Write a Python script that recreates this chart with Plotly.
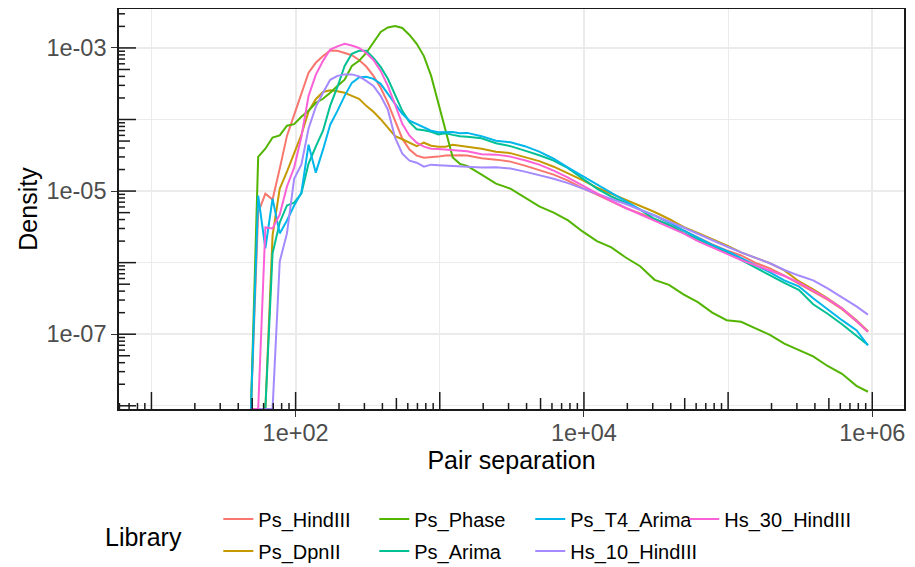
import math
import plotly.graph_objects as go

# ---------------- data ----------------
pair_separation = [49.0, 55.0, 61.7, 69.2, 77.6, 87.1, 97.7, 109.6, 123.0, 138.0,
                   154.9, 173.8, 195.0, 218.8, 245.5, 275.4, 309.0, 346.7, 389.0, 436.5,
                   489.8, 549.5, 616.6, 691.8, 776.2, 871.0, 977.2, 1096, 1230, 1380,
                   1549, 1950, 2455, 3090, 3890, 4898, 6166, 7762, 9772, 12303,
                   15488, 19498, 24547, 30903, 38905, 48978, 61660, 77625, 97724, 123027,
                   154882, 194984, 245471, 309030, 389045, 489779, 616595, 776247, 933254]

ps_hindiii = [0, 5.0e-6, 9.2e-6, 7.6e-6, 2.06e-5, 5.9e-5, 1.16e-4, 2.28e-4, 4.5e-4, 6.2e-4,
              7.7e-4, 9.2e-4, 9.1e-4, 8.5e-4, 7.9e-4, 6.8e-4, 5.5e-4, 4.07e-4, 2.77e-4, 1.71e-4,
              9.5e-5, 5.4e-5, 3.8e-5, 3.13e-5, 2.93e-5, 2.96e-5, 3.03e-5, 3.13e-5, 3.17e-5, 3.17e-5,
              3.13e-5, 2.88e-5, 2.75e-5, 2.58e-5, 2.27e-5, 1.96e-5, 1.70e-5, 1.40e-5, 1.10e-5, 8.9e-6,
              7.1e-6, 5.8e-6, 4.86e-6, 4.07e-6, 3.36e-6, 2.82e-6, 2.25e-6, 1.80e-6, 1.48e-6, 1.26e-6,
              9.9e-7, 8.3e-7, 6.6e-7, 5.06e-7, 3.9e-7, 3.03e-7, 2.23e-7, 1.52e-7, 1.08e-7]

ps_dpnii = [0, 0, 0, 2.4e-6, 1.08e-5, 1.87e-5, 3.4e-5, 6.1e-5, 1.3e-4, 1.92e-4,
            2.42e-4, 2.56e-4, 2.48e-4, 2.36e-4, 2.14e-4, 1.95e-4, 1.55e-4, 1.28e-4, 1.01e-4, 7.7e-5,
            5.85e-5, 5.3e-5, 4.74e-5, 4.24e-5, 4.74e-5, 4.3e-5, 4.17e-5, 4.17e-5, 4.45e-5, 4.3e-5,
            4.17e-5, 3.91e-5, 3.55e-5, 3.39e-5, 2.98e-5, 2.62e-5, 2.19e-5, 1.78e-5, 1.42e-5, 1.12e-5,
            9.2e-6, 7.5e-6, 6.3e-6, 5.1e-6, 4.07e-6, 3.15e-6, 2.6e-6, 2.14e-6, 1.74e-6, 1.39e-6,
            1.16e-6, 9.8e-7, 7.8e-7, 5.5e-7, 4.24e-7, 3.18e-7, 2.3e-7, 1.57e-7, 1.1e-7]

ps_phase = [0, 3.0e-5, 3.9e-5, 5.6e-5, 6.0e-5, 8.2e-5, 8.6e-5, 1.09e-4, 1.32e-4, 1.71e-4,
            1.95e-4, 2.36e-4, 2.95e-4, 3.6e-4, 5.6e-4, 6.6e-4, 8.5e-4, 1.21e-3, 1.67e-3, 1.93e-3,
            2.02e-3, 1.9e-3, 1.52e-3, 1.14e-3, 7.7e-4, 4.07e-4, 1.7e-4, 7.2e-5, 2.95e-5, 2.4e-5,
            2.25e-5, 1.7e-5, 1.27e-5, 1.08e-5, 8.1e-6, 6.1e-6, 5.0e-6, 3.9e-6, 2.73e-6, 2.0e-6,
            1.63e-6, 1.18e-6, 8.9e-7, 5.75e-7, 4.9e-7, 3.6e-7, 2.8e-7, 2.0e-7, 1.57e-7, 1.49e-7,
            1.21e-7, 9.8e-8, 7.4e-8, 6.0e-8, 4.9e-8, 3.6e-8, 2.8e-8, 1.9e-8, 1.57e-8]

ps_arima = [0, 0, 0, 1.35e-6, 3.64e-6, 6.3e-6, 6.9e-6, 9.2e-6, 2.42e-5, 4.17e-5,
            6.97e-5, 1.56e-4, 2.85e-4, 5.6e-4, 8.3e-4, 9.1e-4, 9.1e-4, 7.26e-4, 5.43e-4, 3.7e-4,
            2.21e-4, 1.32e-4, 9.2e-5, 7.3e-5, 7.1e-5, 6.74e-5, 6.2e-5, 6.4e-5, 6.1e-5, 5.85e-5,
            5.75e-5, 5.48e-5, 4.67e-5, 4.24e-5, 3.67e-5, 3.17e-5, 2.66e-5, 2.09e-5, 1.5e-5, 1.08e-5,
            8.4e-6, 6.8e-6, 5.5e-6, 4.07e-6, 3.36e-6, 2.6e-6, 2.11e-6, 1.74e-6, 1.41e-6, 1.09e-6,
            8.45e-7, 6.6e-7, 5.2e-7, 4.17e-7, 2.62e-7, 1.93e-7, 1.38e-7, 9.5e-8, 7.1e-8]

ps_t4_arima = [0, 8.65e-6, 1.58e-6, 7.85e-6, 2.56e-6, 3.88e-6, 6.28e-6, 9.5e-6, 4.45e-5, 1.81e-5,
               3.79e-5, 8.45e-5, 1.32e-4, 2.14e-4, 3.25e-4, 3.88e-4, 3.94e-4, 3.7e-4, 3.15e-4, 2.28e-4,
               1.66e-4, 1.2e-4, 9.6e-5, 8.6e-5, 7.8e-5, 6.97e-5, 6.64e-5, 6.7e-5, 6.7e-5, 6.43e-5,
               6.5e-5, 5.85e-5, 5.06e-5, 4.82e-5, 4.24e-5, 3.55e-5, 2.83e-5, 2.13e-5, 1.62e-5, 1.23e-5,
               9.5e-6, 7.15e-6, 5.5e-6, 4.56e-6, 3.64e-6, 2.82e-6, 2.21e-6, 1.77e-6, 1.46e-6, 1.16e-6,
               9.0e-7, 7.3e-7, 5.66e-7, 4.67e-7, 3.18e-7, 2.23e-7, 1.57e-7, 1.14e-7, 7.0e-8]

hs_10_hindiii = [0, 0, 0, 0, 1.04e-6, 2.56e-6, 1.49e-5, 2.34e-5, 7.5e-5, 1.5e-4,
                 2.36e-4, 3.58e-4, 4.07e-4, 4.27e-4, 4.27e-4, 4.0e-4, 3.47e-4, 2.95e-4, 2.14e-4, 1.37e-4,
                 5.57e-5, 3.33e-5, 2.66e-5, 2.49e-5, 2.19e-5, 2.34e-5, 2.3e-5, 2.27e-5, 2.27e-5, 2.23e-5,
                 2.19e-5, 2.13e-5, 2.16e-5, 2.06e-5, 1.87e-5, 1.67e-5, 1.49e-5, 1.29e-5, 1.08e-5, 9.1e-6,
                 7.74e-6, 6.6e-6, 5.5e-6, 4.56e-6, 3.76e-6, 3.1e-6, 2.52e-6, 2.04e-6, 1.68e-6, 1.39e-6,
                 1.18e-6, 9.8e-7, 7.9e-7, 6.6e-7, 5.66e-7, 4.38e-7, 3.28e-7, 2.45e-7, 1.88e-7]

hs_30_hindiii = [0, 0, 3.1e-6, 3.0e-6, 4.7e-6, 1.16e-5, 2.13e-5, 5.7e-5, 2.14e-4, 4.2e-4,
                 6.6e-4, 9.5e-4, 1.05e-3, 1.14e-3, 1.08e-3, 1.0e-3, 8.5e-4, 6.8e-4, 4.78e-4, 2.95e-4,
                 1.61e-4, 8.7e-5, 5.94e-5, 4.74e-5, 4.17e-5, 3.91e-5, 3.86e-5, 3.78e-5, 3.74e-5, 3.67e-5,
                 3.6e-5, 3.28e-5, 3.23e-5, 3.03e-5, 2.7e-5, 2.34e-5, 1.93e-5, 1.54e-5, 1.19e-5, 9.2e-6,
                 7.26e-6, 5.8e-6, 4.7e-6, 3.88e-6, 3.1e-6, 2.56e-6, 2.0e-6, 1.63e-6, 1.35e-6, 1.09e-6,
                 9.2e-7, 7.8e-7, 6.5e-7, 5.3e-7, 4.1e-7, 3.13e-7, 2.3e-7, 1.54e-7, 1.08e-7]

libraries = ["Ps_HindIII", "Ps_DpnII", "Ps_Phase", "Ps_Arima",
             "Ps_T4_Arima", "Hs_10_HindIII", "Hs_30_HindIII"]
series = [ps_hindiii, ps_dpnii, ps_phase, ps_arima, ps_t4_arima, hs_10_hindiii, hs_30_hindiii]
colors = ["#F8766D", "#C49A00", "#53B400", "#00C094", "#00B6EB", "#A58AFF", "#FB61D7"]
# ggplot fills its 2-row legend column by column: legend column of each library
legend_col = ["legend", "legend", "legend2", "legend2", "legend3", "legend3", "legend4"]

x_tick_vals = [1e2, 1e4, 1e6]
x_tick_text = ["1e+02", "1e+04", "1e+06"]
x_minor_vals = [1e1, 1e3, 1e5]
y_tick_vals = [1e-3, 1e-5, 1e-7]
y_tick_text = ["1e-03", "1e-05", "1e-07"]
y_minor_vals = [1e-4, 1e-6, 1e-8]

X_RANGE = [0.775, 6.22]      # log10 units
Y_RANGE = [-8.045, -2.456]   # log10 units

# ---------------- figure ----------------
FONT = "Liberation Sans, Arial, Helvetica, sans-serif"
y_floor = 10 ** Y_RANGE[0]   # zero densities are drawn on the panel floor (like ggplot's -Inf)

fig = go.Figure()
for name, vals, col, lg in zip(libraries, series, colors, legend_col):
    fig.add_trace(go.Scatter(
        x=pair_separation,
        y=[v if v > 0 else y_floor for v in vals],
        mode="lines", name=name, legend=lg, legendgroup=name,
        line=dict(color=col, width=2.0),
    ))

# annotation_logticks-style ticks inside the panel
shapes = []
tick_col = "#1a1a1a"
for d in range(-1, 8):
    for m in range(1, 10):
        v = m * 10 ** d
        lv = d + math.log10(m)
        if X_RANGE[0] <= lv <= X_RANGE[1]:
            ln = 17 if m == 1 else (11 if m == 5 else 6)
            shapes.append(dict(type="line", xref="x", yref="y domain", ysizemode="pixel",
                               yanchor=0, x0=v, x1=v, y0=0, y1=ln,
                               line=dict(color=tick_col, width=1.5), layer="above"))
for d in range(-9, -1):
    for m in range(1, 10):
        v = m * 10 ** d
        lv = d + math.log10(m)
        if Y_RANGE[0] <= lv <= Y_RANGE[1]:
            ln = 17 if m == 1 else (11 if m == 5 else 6)
            shapes.append(dict(type="line", xref="x domain", yref="y", xsizemode="pixel",
                               xanchor=0, x0=0, x1=ln, y0=v, y1=v,
                               line=dict(color=tick_col, width=1.5), layer="above"))

legend_common = dict(
    orientation="v", xanchor="left", yanchor="top", y=-0.226,
    font=dict(family=FONT, size=20, color="black"),
    itemwidth=30, bgcolor="rgba(0,0,0,0)", tracegroupgap=3,
)
legend_x = [0.1265, 0.3252, 0.5239, 0.7200]

# the page adds an 8px body margin, so the figure is 8px smaller than the window
fig.update_layout(
    width=907, height=559,
    margin=dict(l=111, r=11, t=1, b=158, autoexpand=False),
    paper_bgcolor="white", plot_bgcolor="white",
    font=dict(family=FONT, color="black"),
    shapes=shapes,
    showlegend=True,
    legend=dict(**legend_common, x=legend_x[0]),
    legend2=dict(**legend_common, x=legend_x[1]),
    legend3=dict(**legend_common, x=legend_x[2]),
    legend4=dict(**legend_common, x=legend_x[3]),
    annotations=[dict(text="Library", xref="paper", yref="paper", x=-0.02, y=-0.32,
                      xanchor="left", yanchor="middle", showarrow=False,
                      font=dict(family=FONT, size=25, color="black"))],
)

axis_common = dict(
    type="log", showline=True, linecolor="#1a1a1a", linewidth=1.6, mirror=True,
    ticks="outside", ticklen=6, tickwidth=1.4, tickcolor="#333333",
    showgrid=True, gridcolor="#EBEBEB", gridwidth=1.6,
    tickfont=dict(family=FONT, size=23.5, color="#4D4D4D"),
    zeroline=False, layer="above traces", automargin=False,
)
fig.update_xaxes(
    **axis_common, range=X_RANGE, tickmode="array",
    tickvals=x_tick_vals, ticktext=x_tick_text, ticklabelstandoff=-4,
    minor=dict(tickvals=x_minor_vals, showgrid=True, gridcolor="#EBEBEB", gridwidth=1.1, ticks=""),
    title=dict(text="Pair separation", font=dict(family=FONT, size=25, color="black"), standoff=1),
)
fig.update_yaxes(
    **axis_common, range=Y_RANGE, tickmode="array",
    tickvals=y_tick_vals, ticktext=y_tick_text,
    minor=dict(tickvals=y_minor_vals, showgrid=True, gridcolor="#EBEBEB", gridwidth=1.1, ticks=""),
    title=dict(text="Density", font=dict(family=FONT, size=25, color="black"), standoff=2),
)

fig.write_html("out.html")
